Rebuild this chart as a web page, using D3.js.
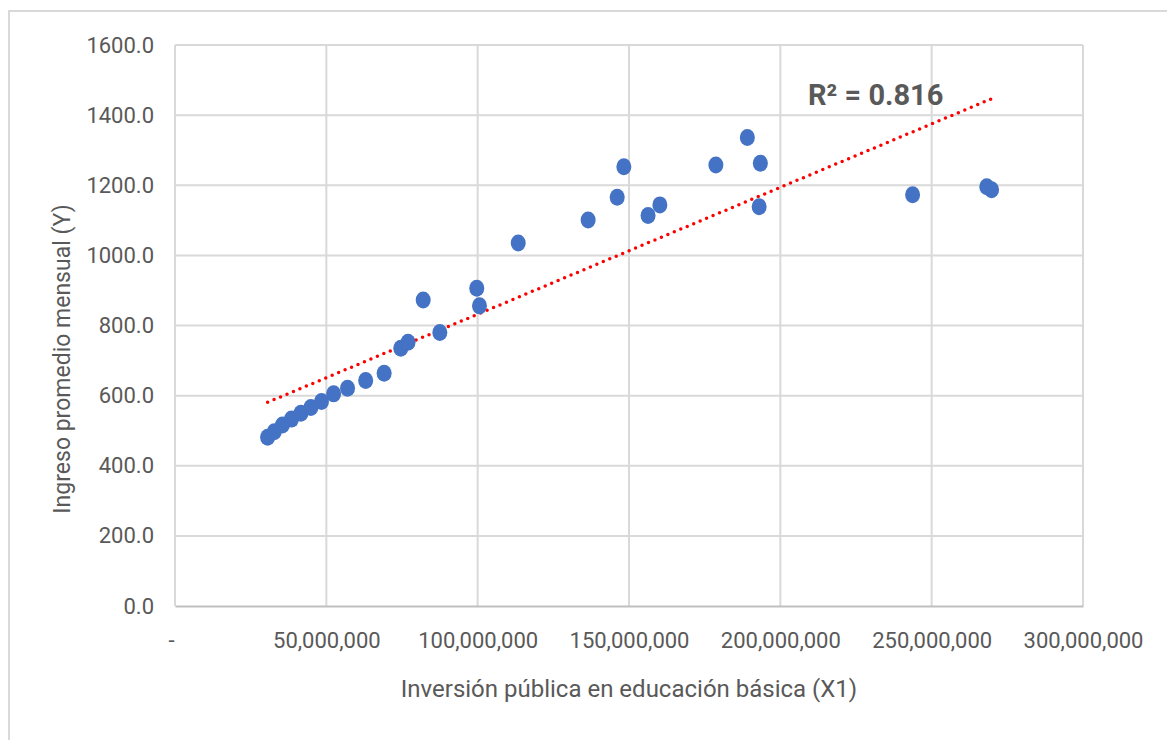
<!DOCTYPE html>
<html>
<head>
<meta charset="utf-8">
<script src="https://cdn.jsdelivr.net/npm/d3@7"></script>
<style>
  html, body { margin: 0; padding: 0; background: #fff; overflow: hidden; }
  svg { display: block; }
  text { font-family: Roboto, "Liberation Sans", sans-serif; fill: #595959; }
</style>
</head>
<body>
<script>
// Data
const inversion = [30600000, 32800000, 35500000, 38500000, 41600000, 44900000, 48400000, 52400000,
  57000000, 63000000, 69100000, 74600000, 77000000, 82000000, 87500000, 99700000, 100600000,
  113400000, 136500000, 146100000, 148300000, 156300000, 160200000, 178700000, 189100000,
  193000000, 193400000, 243700000, 268200000, 269800000];
const ingreso = [481, 497, 516, 533, 550, 566, 583, 605, 621, 643, 664, 735, 752, 873, 780, 906, 856,
  1035, 1101, 1166, 1253, 1114, 1144, 1258, 1336, 1139, 1263, 1173, 1196, 1187];
const xTicks = [0, 50000000, 100000000, 150000000, 200000000, 250000000, 300000000];
const yTicks = [0, 200, 400, 600, 800, 1000, 1200, 1400, 1600];
const r2Label = 'R² = 0.816';
const xTitle = 'Inversión pública en educación básica (X1)';
const yTitle = 'Ingreso promedio mensual (Y)';

const width = 1167;
const height = 740;
const margin = { top: 45, right: 84, bottom: 134, left: 175 };
const innerWidth = width - margin.left - margin.right;
const innerHeight = height - margin.top - margin.bottom;

const svg = d3.select('body')
  .append('svg')
  .attr('width', width)
  .attr('height', height);

// Outer chart border: only top and left edges are visible
svg.append('path')
  .attr('d', `M9,${height} V11 H${width}`)
  .attr('fill', 'none')
  .attr('stroke', '#d9d9d9')
  .attr('stroke-width', 2);

const chart = svg.append('g')
  .attr('transform', `translate(${margin.left}, ${margin.top})`);

const xScale = d3.scaleLinear().domain([0, 300000000]).range([0, innerWidth]);
const yScale = d3.scaleLinear().domain([0, 1600]).range([innerHeight, 0]);

// Gridlines
chart.selectAll('.hgrid')
  .data(yTicks.slice(1))
  .enter()
  .append('line')
  .attr('x1', 0)
  .attr('x2', innerWidth)
  .attr('y1', d => yScale(d))
  .attr('y2', d => yScale(d))
  .attr('stroke', '#d9d9d9')
  .attr('stroke-width', 2);

chart.selectAll('.vgrid')
  .data(xTicks)
  .enter()
  .append('line')
  .attr('x1', d => xScale(d))
  .attr('x2', d => xScale(d))
  .attr('y1', 0)
  .attr('y2', innerHeight)
  .attr('stroke', '#d9d9d9')
  .attr('stroke-width', 2);

// Axes
const xAxis = d3.axisBottom(xScale)
  .tickValues(xTicks)
  .tickSize(0)
  .tickPadding(26)
  .tickFormat(d => d === 0 ? '-' : d3.format(',')(d));

const yAxis = d3.axisLeft(yScale)
  .tickValues(yTicks)
  .tickSize(0)
  .tickPadding(21)
  .tickFormat(d3.format('.1f'));

const gx = chart.append('g')
  .attr('transform', `translate(0, ${innerHeight})`)
  .call(xAxis)
  .attr('font-size', 22)
  .attr('font-family', null);
gx.select('.domain').attr('stroke', '#bfbfbf').attr('stroke-width', 2);
gx.selectAll('text').attr('fill', '#595959');
gx.selectAll('.tick').filter(d => d === 0).select('text').attr('dx', -4);

const gy = chart.append('g')
  .call(yAxis)
  .attr('font-size', 22)
  .attr('font-family', null);
gy.select('.domain').remove();
gy.selectAll('text').attr('fill', '#595959');

// Linear trendline (least squares)
const xm = d3.mean(inversion);
const ym = d3.mean(ingreso);
const slope = d3.sum(inversion, (x, i) => (x - xm) * (ingreso[i] - ym)) /
  d3.sum(inversion, x => (x - xm) * (x - xm));
const intercept = ym - slope * xm;
const trendX = d3.extent(inversion);

chart.append('line')
  .attr('x1', xScale(trendX[0]))
  .attr('y1', yScale(intercept + slope * trendX[0]))
  .attr('x2', xScale(trendX[1]))
  .attr('y2', yScale(intercept + slope * trendX[1]))
  .attr('stroke', '#ff0000')
  .attr('stroke-width', 3.5)
  .attr('stroke-linecap', 'round')
  .attr('stroke-dasharray', '0 7');

// Points
chart.selectAll('.dot')
  .data(inversion)
  .enter()
  .append('ellipse')
  .attr('cx', d => xScale(d))
  .attr('cy', (d, i) => yScale(ingreso[i]))
  .attr('rx', 7.5)
  .attr('ry', 8.5)
  .attr('fill', '#4472c4');

// R² label
svg.append('text')
  .attr('x', 808)
  .attr('y', 105)
  .attr('font-size', 29)
  .attr('font-weight', 'bold')
  .text(r2Label);

// Axis titles
svg.append('text')
  .attr('x', 629)
  .attr('y', 697)
  .attr('text-anchor', 'middle')
  .attr('font-size', 24)
  .text(xTitle);

svg.append('text')
  .attr('transform', 'translate(70, 359) rotate(-90)')
  .attr('text-anchor', 'middle')
  .attr('font-size', 23)
  .text(yTitle);
</script>
</body>
</html>
